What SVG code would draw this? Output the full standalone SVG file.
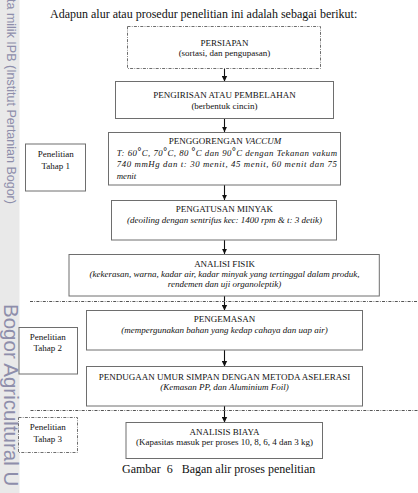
<svg xmlns="http://www.w3.org/2000/svg" width="418" height="493" viewBox="0 0 418 493">
<style>
.bx{fill:#fff;stroke:#6e6e6e;stroke-width:1}
.dd{fill:#fff;stroke:#6e6e6e;stroke-width:1;stroke-dasharray:3 1.3 0.8 1.3}
.sep{fill:none;stroke:#555;stroke-width:1;stroke-dasharray:3 1.3 0.8 1.3}
.ar{fill:none;stroke:#111;stroke-width:1.1;marker-end:url(#ah)}
text{font-family:"Liberation Serif","Times New Roman",serif;fill:#111}
.up{font-size:9px;text-anchor:middle}
.lo{font-size:9px;text-anchor:middle}
.it{font-style:italic}
.side{font-size:9px;text-anchor:middle}
.deg{font-style:normal;font-size:9.5px;font-weight:bold}
.wm{font-family:"Liberation Sans",Arial,sans-serif;fill:#8e8eab}
</style>
<defs>
<marker id="ah" markerUnits="userSpaceOnUse" markerWidth="6" markerHeight="6" refX="5.5" refY="3" orient="auto">
<path d="M0,0.3 L5.5,3 L0,5.7 z" fill="#111"/>
</marker>
</defs>
<rect width="418" height="493" fill="#fff"/>
<g id="watermark">
<rect x="0" y="0" width="19.5" height="493" fill="#e9e9e9"/>
<text class="wm" font-size="12.5" transform="translate(6.5,-1) rotate(90)">ta milik IPB (Institut Pertanian Bogor)</text>
<text class="wm" font-size="20.5" transform="translate(3.5,304) rotate(90)">Bogor Agricultural U</text>
</g>
<text id="title" x="50" y="18" font-size="12px">Adapun alur atau prosedur penelitian ini adalah sebagai berikut:</text>
<g id="connectors">
<line class="ar" x1="224.5" y1="68.5" x2="224.5" y2="81.5"/>
<line class="ar" x1="224.5" y1="118.5" x2="224.5" y2="132"/>
<line class="ar" x1="224.5" y1="185" x2="224.5" y2="200"/>
<line class="ar" x1="224.5" y1="240" x2="224.5" y2="254"/>
<line class="ar" x1="224.5" y1="296" x2="224.5" y2="310.5"/>
<line class="ar" x1="224.5" y1="350" x2="224.5" y2="366.5"/>
<line class="ar" x1="224.5" y1="406" x2="224.5" y2="422.5"/>
<line class="sep" x1="30" y1="301.5" x2="418" y2="301.5"/>
<line class="sep" x1="30.5" y1="410.5" x2="418" y2="410.5"/>
</g>
<g id="persiapan">
<rect class="dd" x="127.5" y="26.5" width="193" height="42"/>
<text class="up" x="224.5" y="46">PERSIAPAN</text>
<text class="lo" x="224.5" y="56">(sortasi, dan pengupasan)</text>
</g>
<g id="pengirisan">
<rect class="bx" x="115.5" y="81.5" width="218" height="37"/>
<text class="up" x="224.5" y="98">PENGIRISAN ATAU PEMBELAHAN</text>
<text class="lo" x="224.5" y="108.5">(berbentuk cincin)</text>
</g>
<g id="penggorengan">
<rect class="bx" x="108.5" y="132.5" width="232" height="52.5"/>
<text class="up" x="225" y="143.7">PENGGORENGAN <tspan class="it">VACCUM</tspan></text>
<text class="it" x="116.7" y="156" font-size="8.8px" textLength="220.3" lengthAdjust="spacing">T: 60<tspan class="deg" dy="-1.5">°</tspan><tspan dy="1.5">C, 70</tspan><tspan class="deg" dy="-1.5">°</tspan><tspan dy="1.5">C, 80 </tspan><tspan class="deg" dy="-1.5">°</tspan><tspan dy="1.5">C dan 90</tspan><tspan class="deg" dy="-1.5">°</tspan><tspan dy="1.5">C dengan Tekanan vakum</tspan></text>
<text class="it" x="116.7" y="167" font-size="8.8px" textLength="220.3" lengthAdjust="spacing">740 mmHg dan t: 30 menit, 45 menit, 60 menit dan 75</text>
<text class="it" x="116.7" y="179" font-size="8.8px">menit</text>
</g>
<g id="pengatusan">
<rect class="bx" x="111.5" y="200.5" width="225" height="39.5"/>
<text class="up" x="224.5" y="212">PENGATUSAN MINYAK</text>
<text class="lo it" x="224.5" y="222.5">(deoiling dengan sentrifus kec: 1400 rpm &amp; t: 3 detik)</text>
</g>
<g id="analisi-fisik">
<rect class="bx" x="69" y="254.5" width="310.3" height="41.5"/>
<text class="up" x="224.5" y="267">ANALISI FISIK</text>
<text class="lo it" x="224.5" y="277.3">(kekerasan, warna, kadar air, kadar minyak yang tertinggal dalam produk,</text>
<text class="lo it" x="224.5" y="287">rendemen dan uji organoleptik)</text>
</g>
<g id="tahap1">
<rect class="bx" x="25.5" y="144" width="60" height="47"/>
<text class="side" x="55.7" y="157">Penelitian</text>
<text class="side" x="55.7" y="168.5">Tahap 1</text>
</g>
<g id="pengemasan">
<rect class="bx" x="86.5" y="310.5" width="276" height="39.5"/>
<text class="up" x="224.5" y="322">PENGEMASAN</text>
<text class="lo it" x="224.5" y="333">(mempergunakan bahan yang kedap cahaya dan uap air)</text>
</g>
<g id="tahap2">
<rect class="bx" x="19" y="327.5" width="58.5" height="46.5"/>
<text class="side" x="47.8" y="339.5">Penelitian</text>
<text class="side" x="47.8" y="351">Tahap 2</text>
</g>
<g id="pendugaan">
<rect class="bx" x="86.5" y="366.5" width="276" height="39.5"/>
<text class="up" x="224.5" y="379.5">PENDUGAAN UMUR SIMPAN DENGAN METODA ASELERASI</text>
<text class="lo it" x="224.5" y="389.5">(Kemasan PP, dan Aluminium Foil)</text>
</g>
<g id="analisis-biaya">
<rect class="bx" x="126" y="422.5" width="196.5" height="36"/>
<text class="up" x="224.5" y="434.5">ANALISIS BIAYA</text>
<text class="lo" x="224.5" y="445">(Kapasitas masuk per proses 10, 8, 6, 4 dan 3 kg)</text>
</g>
<g id="tahap3">
<rect class="dd" x="18.5" y="417.5" width="59" height="35"/>
<text class="side" x="47.8" y="430">Penelitian</text>
<text class="side" x="47.8" y="442">Tahap 3</text>
</g>
<text id="caption" x="122" y="473" font-size="12px" xml:space="preserve">Gambar  6   Bagan alir proses penelitian</text>
</svg>
